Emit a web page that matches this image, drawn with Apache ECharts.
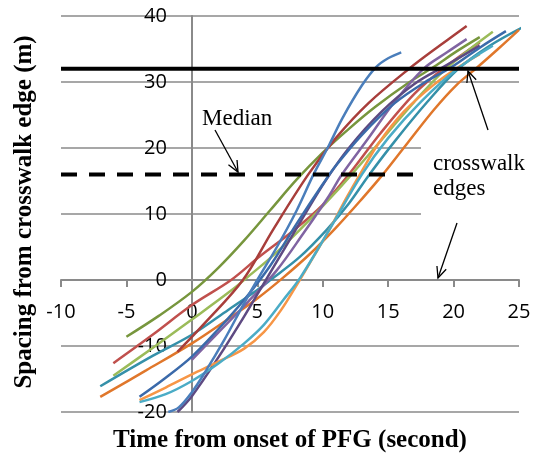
<!DOCTYPE html>
<html>
<head>
<meta charset="utf-8">
<script src="https://cdn.jsdelivr.net/npm/echarts@6/dist/echarts.min.js"></script>
<style>
    html, body { margin: 0; padding: 0; background: #fff; }
    #main { width: 538px; height: 457px; }
</style>
</head>
<body>
<div id="main"></div>
<script>
// Axis ranges and tick steps
const xRange = [-10, 25];
const yRange = [-20, 40];
const xStep = 5;
const yStep = 10;

// Reference lines (m)
const edgeY = 32;
const medianY = 16;

// Pedestrian trajectories: [time (s), spacing (m)]
const oliveTrack = [[-5,-8.6],[-2.5,-5.4],[0,-1.8],[2,1.8],[4,6],[6,10.6],[8,15.2],[10,19.3],[12,22.9],[14,26.2],[16.5,29.8],[18.5,32.3],[20.2,34.6],[22,36.8]];
const redTrack = [[-6,-12.6],[-3,-8.3],[0,-3.8],[3,0],[5.2,3.6],[7.7,7.4],[10,11.4],[12,16],[14.4,22.2],[17,28.2],[19.2,32],[22,36]];
const lightGreenTrack = [[-6,-14.5],[-3,-10.3],[0,-6],[3,-1.6],[4.6,1],[6.2,3.7],[8.25,7.6],[10.2,11.6],[12.3,16.2],[15,22.4],[17,27],[19.2,31.6],[21,34.6],[23,37.6]];
const tealTrack = [[-7,-16.1],[-3,-11.5],[0,-8.3],[2.8,-4.5],[5,-1.5],[6,0],[8.25,3.5],[10.3,7.6],[12,11.6],[13.5,15.8],[15.5,21],[18,27],[20.3,31.9],[22.7,35.4],[25.2,38.2]];
const brownTrack = [[-7,-17.7],[-3.5,-13.7],[0,-9.6],[3,-5.6],[5,-2.8],[7,0.4],[9,3.9],[11,7.9],[13,12.3],[14.6,16],[16.5,20.8],[18.5,25.8],[20.2,29.5],[21.8,32.2],[23.4,35],[25,37.9]];
const darkRedTrack = [[-1.1,-10.9],[1,-6.5],[3.9,0],[6.2,7.6],[8.9,16],[11,21.5],[13.5,26.8],[16.6,32],[19,35.6],[21,38.5]];
const purpleTrack = [[0,-12.1],[2,-8],[4.2,-3.5],[6.5,1.5],[8.5,7],[10.5,12.8],[11.4,15.8],[13.5,21.5],[15.5,27],[17.7,32],[19.5,34.5],[21,36.5]];
const darkPurpleTrack = [[-1.1,-20],[0,-17.6],[2,-11.8],[4,-5.5],[5.5,-0.5],[7,4.5],[8.5,9.5],[10.2,15],[12,20],[14.5,25.5],[17,29.7],[19.5,32.6],[22,35.5]];
const darkBlueTrack = [[-4,-17.7],[-2,-14.8],[0,-11.6],[2,-7.5],[4,-3],[6,2.2],[8,8.5],[10,14.5],[11,17.3],[13,22],[15.5,26.8],[18,30.2],[19.8,32.2],[22,35.2],[24,37.7]];
const orangeTrack = [[-4,-18.2],[-2,-16.3],[0,-14.3],[2,-12.4],[4,-10.4],[5.5,-7.9],[6.8,-4.6],[8,-0.8],[9.2,3.2],[10.5,7.6],[11.8,12.4],[12.9,16.2],[14.3,20.8],[16.2,25.5],[18.5,29.6],[20.5,32.4],[22,34.2]];
const aquaTrack = [[-4,-18.5],[-2,-17.3],[0,-15.3],[2,-12.7],[4,-9.6],[5.5,-6.8],[7,-3],[8.3,0.4],[10.5,7.6],[13,16],[15,21.5],[17.5,27],[20.3,32],[23,35.5]];
const blueTrack = [[-1.8,-20],[-1,-19.3],[0,-17],[1,-14],[2.5,-9],[4,-3.5],[5,0],[6.5,5],[8,10.5],[9.3,16],[10.5,20.5],[11.5,24.5],[13,29.5],[14.1,32.3],[15,33.6],[16,34.5]];

const tracks = [
    { name: "P1", color: "#77963D", data: oliveTrack },
    { name: "P2", color: "#C0504D", data: redTrack },
    { name: "P3", color: "#9BBB59", data: lightGreenTrack },
    { name: "P4", color: "#3590A9", data: tealTrack },
    { name: "P5", color: "#E0772B", data: brownTrack },
    { name: "P6", color: "#A83E3B", data: darkRedTrack },
    { name: "P7", color: "#8064A2", data: purpleTrack },
    { name: "P8", color: "#5E4A82", data: darkPurpleTrack },
    { name: "P9", color: "#3B6AAA", data: darkBlueTrack },
    { name: "P10", color: "#F79646", data: orangeTrack },
    { name: "P11", color: "#4BACC6", data: aquaTrack },
    { name: "P12", color: "#4A7EBB", data: blueTrack }
];

const gray = "#8a8a8a";
const tickFont = "Open Sans";
const serif = "Liberation Serif";

// plot box (px)
const gridBox = { left: 61, right: 19, top: 16, bottom: 45 };
const plotW = 538 - gridBox.left - gridBox.right;
const plotH = 457 - gridBox.top - gridBox.bottom;

// axes cross at zero: shift each axis from its edge to the zero line
const xAxisShift = -plotH * (0 - yRange[0]) / (yRange[1] - yRange[0]);
const yAxisShift = -plotW * (0 - xRange[0]) / (xRange[1] - xRange[0]);

var chart = echarts.init(document.getElementById("main"));

var series = tracks.map(function (t) {
    return {
        name: t.name,
        type: "line",
        data: t.data,
        smooth: 0.35,
        showSymbol: false,
        lineStyle: { color: t.color, width: 2.5 },
        z: 2
    };
});

// crosswalk edge (solid) and median (dashed)
series.push({
    name: "edge",
    type: "line",
    data: [[xRange[0], edgeY], [xRange[1], edgeY]],
    showSymbol: false,
    lineStyle: { color: "#000", width: 4 },
    z: 4
});
series.push({
    name: "median",
    type: "line",
    data: [[xRange[0], medianY], [xRange[1], medianY]],
    showSymbol: false,
    lineStyle: { color: "#000", width: 4, type: [16, 12] },
    z: 4
});

// arrow helper: open V head at the tip
function arrow(tail, tip) {
    var a = Math.atan2(tip[1] - tail[1], tip[0] - tail[0]);
    var len = 12, spread = 0.42;
    var w1 = [tip[0] - len * Math.cos(a - spread), tip[1] - len * Math.sin(a - spread)];
    var w2 = [tip[0] - len * Math.cos(a + spread), tip[1] - len * Math.sin(a + spread)];
    return [
        { type: "polyline", shape: { points: [tail, tip] }, style: { stroke: "#000", lineWidth: 1.3, fill: null }, z: 20 },
        { type: "polyline", shape: { points: [w1, tip, w2] }, style: { stroke: "#000", lineWidth: 1.3, fill: null }, z: 20 }
    ];
}

var graphics = [
    // white box behind the label
    { type: "rect", shape: { x: 421, y: 140, width: 117, height: 80 }, style: { fill: "#fff" }, z: 10 },
    { type: "text", x: 433, y: 151, style: { text: "crosswalk\nedges", font: "23px '" + serif + "'", lineHeight: 25, fill: "#000", textAlign: "left", textVerticalAlign: "top" }, z: 11 },
    { type: "text", x: 202, y: 119, style: { text: "Median", font: "23px '" + serif + "'", fill: "#000", textAlign: "left", textVerticalAlign: "middle" }, z: 11 },
    { type: "text", x: 290, y: 441, style: { text: "Time from onset of PFG (second)", font: "bold 25px '" + serif + "'", fill: "#000", textAlign: "center", textVerticalAlign: "middle" } },
    { type: "text", x: 25, y: 212, rotation: Math.PI / 2, style: { text: "Spacing from crosswalk edge (m)", font: "bold 25px '" + serif + "'", fill: "#000", textAlign: "center", textVerticalAlign: "middle" } }
];
graphics = graphics.concat(arrow([215, 130], [238, 172]));
graphics = graphics.concat(arrow([488, 130], [468, 71]));
graphics = graphics.concat(arrow([457, 223], [438, 278]));

var option = {
    animation: false,
    backgroundColor: "#fff",
    grid: gridBox,
    xAxis: {
        type: "value",
        min: xRange[0],
        max: xRange[1],
        interval: xStep,
        offset: xAxisShift,
        axisLine: { onZero: false, lineStyle: { color: gray, width: 2 } },
        axisTick: { show: true, length: 7, lineStyle: { color: gray, width: 2 } },
        axisLabel: { color: "#000", fontFamily: tickFont, fontSize: 20, margin: 22 },
        splitLine: { show: false }
    },
    yAxis: {
        type: "value",
        min: yRange[0],
        max: yRange[1],
        interval: yStep,
        offset: yAxisShift,
        axisLine: { show: true, onZero: false, lineStyle: { color: gray, width: 2 } },
        axisTick: { show: false },
        axisLabel: { color: "#000", fontFamily: tickFont, fontSize: 20, margin: 25 },
        splitLine: { show: true, lineStyle: { color: gray, width: 1.5 } }
    },
    series: series,
    graphic: graphics
};

chart.setOption(option);
</script>
</body>
</html>
